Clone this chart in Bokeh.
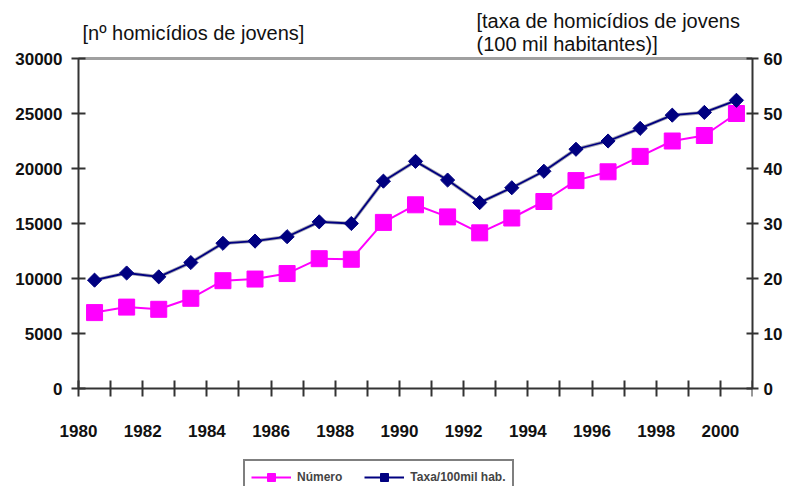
from bokeh.plotting import figure
from bokeh.models import (Range1d, LinearAxis, FixedTicker, Legend, Label,
                          ColumnDataSource)
from bokeh.transform import dodge
from bokeh.embed import file_html
from bokeh.resources import INLINE

years = list(range(1980, 2001))
numero = [6900, 7400, 7200, 8200, 9800, 9950, 10450, 11800, 11750, 15100,
          16700, 15600, 14150, 15500, 17000, 18900, 19700, 21100, 22500,
          23000, 25000]
taxa = [19.7, 21.0, 20.3, 22.9, 26.4, 26.8, 27.6, 30.3, 30.0, 37.7, 41.3,
        37.9, 33.8, 36.5, 39.5, 43.5, 45.0, 47.3, 49.7, 50.2, 52.4]
left_ticks = [0, 5000, 10000, 15000, 20000, 25000, 30000]
right_ticks = [0, 10, 20, 30, 40, 50, 60]
year_ticks = list(range(1980, 2001, 2))
year_minor = list(range(1981, 2002, 2))
left_max, right_max = 30000, 60
x_first, x_last = 1980, 2001

FONT = "Liberation Sans"
src = ColumnDataSource(dict(year=years, numero=numero, taxa=taxa))

# layout (pixels): the frame spans almost the whole canvas; the value axes are
# bounded to their data range and the axes are pinned at x = 1980 / y = 0
W, H = 789, 491
border_top, border_bottom, border_left, border_right = 5, 5, 5, 37
frame_top, frame_bottom = border_top, H - border_bottom
frame_left = border_left
zero_px, top_px = 388, 58
left_px, right_px = 78, W - border_right
span_px = zero_px - top_px
lo = -(frame_bottom - zero_px) / span_px
hi = (zero_px - frame_top) / span_px
px_per_year = (right_px - left_px) / (x_last - x_first)

p = figure(width=W, height=H, output_backend="svg", toolbar_location=None,
           x_range=Range1d(x_first - (left_px - frame_left) / px_per_year, x_last),
           y_range=Range1d(left_max * lo, left_max * hi),
           min_border_left=border_left, min_border_right=border_right,
           min_border_top=border_top, min_border_bottom=border_bottom)
p.outline_line_color = None
p.grid.grid_line_color = None
p.extra_y_ranges = {"taxa": Range1d(right_max * lo, right_max * hi)}

# left axis, drawn at x = 1980
ya = p.yaxis[0]
ya.fixed_location = x_first
ya.bounds = (0, left_max)
ya.ticker = FixedTicker(ticks=left_ticks, minor_ticks=[])
ya.axis_line_color = "#333333"
ya.axis_line_width = 2
ya.major_tick_line_color = "#333333"
ya.major_tick_line_width = 2
ya.major_tick_in = 7
ya.major_tick_out = 7
ya.major_label_standoff = 9
ya.major_label_text_font = FONT
ya.major_label_text_font_style = "bold"
ya.major_label_text_font_size = "17px"
ya.major_label_text_color = "#111111"

# bottom axis, drawn at y = 0
xa = p.xaxis[0]
xa.fixed_location = 0
xa.bounds = (x_first, x_last)
xa.ticker = FixedTicker(ticks=year_ticks, minor_ticks=year_minor)
xa.axis_line_color = "#333333"
xa.axis_line_width = 2
xa.major_tick_line_color = "#333333"
xa.major_tick_line_width = 2
xa.minor_tick_line_color = "#333333"
xa.minor_tick_line_width = 2
xa.major_tick_in = 8
xa.major_tick_out = 8
xa.minor_tick_in = 8
xa.minor_tick_out = 8
xa.major_label_standoff = 28
xa.major_label_text_font = FONT
xa.major_label_text_font_style = "bold"
xa.major_label_text_font_size = "17px"
xa.major_label_text_color = "#111111"

# right axis
ra = LinearAxis(y_range_name="taxa", bounds=(0, right_max),
                ticker=FixedTicker(ticks=right_ticks, minor_ticks=[]))
ra.axis_line_color = "#333333"
ra.axis_line_width = 2
ra.major_tick_line_color = "#333333"
ra.major_tick_line_width = 2
ra.major_tick_in = 6
ra.major_tick_out = 6
ra.major_label_standoff = 5
ra.major_label_text_font = FONT
ra.major_label_text_font_style = "bold"
ra.major_label_text_font_size = "17px"
ra.major_label_text_color = "#111111"
p.add_layout(ra, "right")

# top border line: a bare axis pinned at the top value
ta = LinearAxis(fixed_location=left_max, bounds=(x_first, x_last),
                ticker=FixedTicker(ticks=[], minor_ticks=[]),
                major_label_text_font_size="0px", axis_line_color="#a0a0a0",
                axis_line_width=3, major_tick_line_color=None,
                minor_tick_line_color=None)
p.add_layout(ta, "above")

xpos = dodge("year", 0.5, range=p.x_range)

l1 = p.line(x=xpos, y="numero", source=src, line_color="#ff00ff", line_width=2)
s1 = p.scatter(x=xpos, y="numero", source=src, marker="square", size=16,
               fill_color="#ff00ff", line_color="#ff00ff")
l2h = p.line(x=xpos, y="taxa", source=src, line_color="#6a6a80", line_width=3.5,
             line_alpha=0.6, y_range_name="taxa")
l2 = p.line(x=xpos, y="taxa", source=src, line_color="#000080", line_width=1.8,
            y_range_name="taxa")
s2 = p.scatter(x=xpos, y="taxa", source=src, marker="square", angle=0.785398,
               size=10, fill_color="#000080", line_color="#000080",
               y_range_name="taxa")

legend = Legend(items=[("Número", [l1, s1]), ("Taxa/100mil hab.", [l2, s2])],
                orientation="horizontal",
                location=(243 - frame_left, frame_bottom - 495),
                border_line_color="black", border_line_width=2,
                background_fill_color="white", background_fill_alpha=1,
                label_text_font=FONT, label_text_font_style="bold",
                label_text_font_size="12px", glyph_width=40, glyph_height=20,
                label_standoff=6, spacing=22, padding=6, margin=0)
p.add_layout(legend, "center")

for txt, x, y in [("[nº homicídios de jovens]", 82, 32),
                  ("[taxa de homicídios de jovens", 476, 20),
                  ("(100 mil habitantes)]", 476, 43)]:
    p.add_layout(Label(x=x - frame_left, y=frame_bottom - y, x_units="screen",
                       y_units="screen", text=txt, text_font=FONT,
                       text_font_size="20px", text_baseline="middle",
                       text_color="#111111"))

open("out.html", "w").write(file_html(p, INLINE))
